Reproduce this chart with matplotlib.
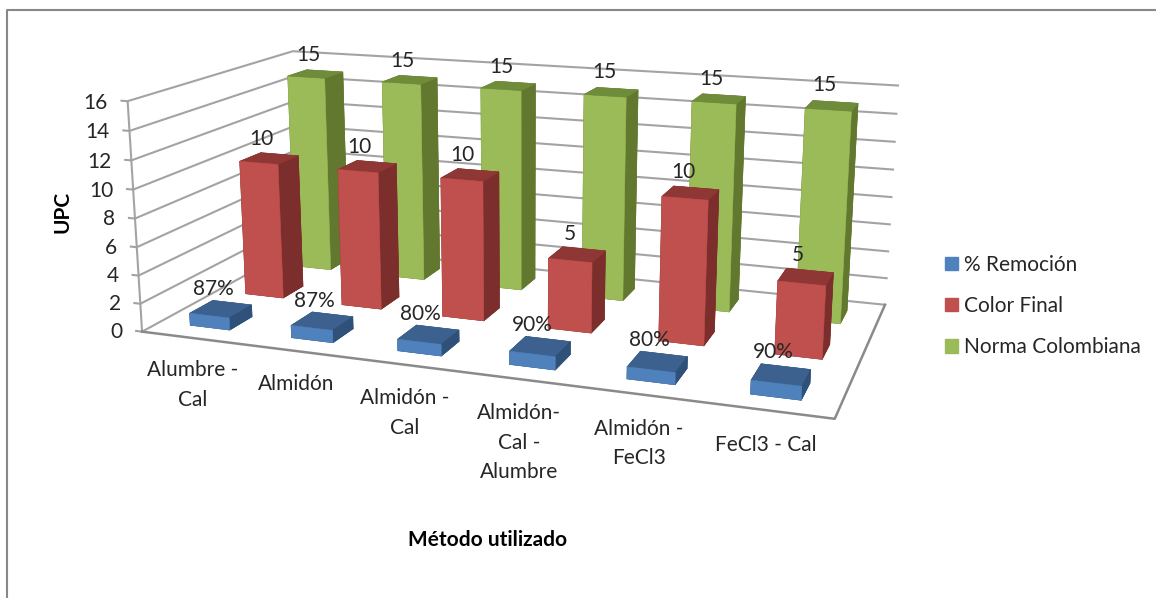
import numpy as np
import matplotlib
matplotlib.use('Agg')
import matplotlib.pyplot as plt
from matplotlib.patches import Patch
from matplotlib.lines import Line2D
from mpl_toolkits.mplot3d import proj3d

plt.rcParams['font.family'] = ['Lato', 'DejaVu Sans']

categories = ['Alumbre -\nCal', 'Almidón', 'Almidón -\nCal',
              'Almidón-\nCal -\nAlumbre', 'Almidón -\nFeCl3', 'FeCl3 - Cal']
remocion = [0.87, 0.87, 0.80, 0.90, 0.80, 0.90]
color_final = [10, 10, 10, 5, 10, 5]
norma = [15, 15, 15, 15, 15, 15]
z_ticks = [0, 2, 4, 6, 8, 10, 12, 14, 16]

W, H = 1156, 598
SIDE = 1500
FS = 15
TEXT = '#262626'
GRID = '#a3a3a3'
EDGE = '#8a8a8a'

fig = plt.figure(figsize=(W / 100, H / 100), dpi=100)
ax = fig.add_axes([-0.21365, -0.63510, SIDE / W, SIDE / H], projection='3d')
ax.computed_zorder = False
ax.set_xlim(0, 6, view_margin=0)
ax.set_ylim(0, 3, view_margin=0)
ax.set_zlim(0, 16, view_margin=0)
ax.set_box_aspect((1, 0.49253, 0.33965), zoom=0.51477)
ax.view_init(elev=14.27621, azim=-70.34606)
ax.set_proj_type('persp', focal_length=0.19469)
ax.set_axis_off()

n = len(categories)
half_x = 0.1977
half_y = 0.2010
M = ax.get_proj()


def label(x, y, z, s, **kw):
    # flat text placed at the projected position of a 3d point
    xs, ys, _ = proj3d.proj_transform(x, y, z, M)
    ax.text2D(xs, ys, s, transform=ax.transData, fontsize=FS, color=TEXT, zorder=11, **kw)


def draw_series(values, row, front, top, side, zorder):
    xpos = np.arange(n) + 0.5 - half_x
    ypos = np.full(n, row + 0.5 - half_y)
    # face order in bar3d: bottom, top, front, back, left, right
    faces = [side, top, front, side, side, side] * n
    bars = ax.bar3d(xpos, ypos, np.zeros(n), 2 * half_x, 2 * half_y, values,
                    color=faces, shade=False, edgecolor=faces, linewidth=0.4)
    bars.set_zorder(zorder)


# walls: one line per level along the side wall and the back wall
for z in z_ticks:
    ax.plot([0, 0, 6], [0, 3, 3], [z, z, z], color=GRID, lw=1.5, zorder=1)
    ax.plot([-0.06, 0], [0, 0], [z, z], color=GRID, lw=1.5, zorder=1)
    label(-0.2, 0, z - 0.2, str(z), ha='right', va='center')
ax.plot([0, 0], [0, 0], [0, 16], color=GRID, lw=1.5, zorder=1)
ax.plot([0, 6, 6], [0, 0, 3], [0, 0, 0], color=EDGE, lw=1.8, zorder=1)

draw_series(norma, 2, '#9bbb59', '#6f8c3a', '#62782f', 2)
draw_series(color_final, 1, '#c0504d', '#8f3735', '#7b2e2c', 3)
draw_series(remocion, 0, '#4f81bd', '#3c618f', '#2f5079', 4)

# value labels float just above each bar
for row, values, fmt in [(2, norma, '{:d}'), (1, color_final, '{:d}'), (0, remocion, '{:.0%}')]:
    for i, v in enumerate(values):
        label(i + 0.43, row + 0.5, v + 1.4, fmt.format(v), ha='center', va='center')

for i, name in enumerate(categories):
    label(i + 0.49, 0, -1.6, name, ha='center', va='top', linespacing=1.6)

fig.text(63 / W, 1 - 212 / H, 'UPC', rotation=90, ha='center', va='center',
         fontsize=FS, fontweight='bold', color='black')
fig.text(488 / W, 1 - 540 / H, 'Método utilizado', ha='center', va='center',
         fontsize=FS, fontweight='bold', color='black')

handles = [Patch(color='#4f81bd', label='% Remoción'),
           Patch(color='#c0504d', label='Color Final'),
           Patch(color='#9bbb59', label='Norma Colombiana')]
fig.legend(handles=handles, loc='center left', bbox_to_anchor=(945 / W, 1 - 306 / H),
           frameon=False, fontsize=FS, handlelength=0.6, handleheight=0.6,
           handletextpad=0.3, labelspacing=1.03, labelcolor=TEXT, borderpad=0,
           borderaxespad=0)

# outer chart border
fig.add_artist(Line2D([7 / W, 7 / W, 1], [0, 1 - 10 / H, 1 - 10 / H], color='#888888', lw=1.5))

fig.savefig('out.png', dpi=100)
